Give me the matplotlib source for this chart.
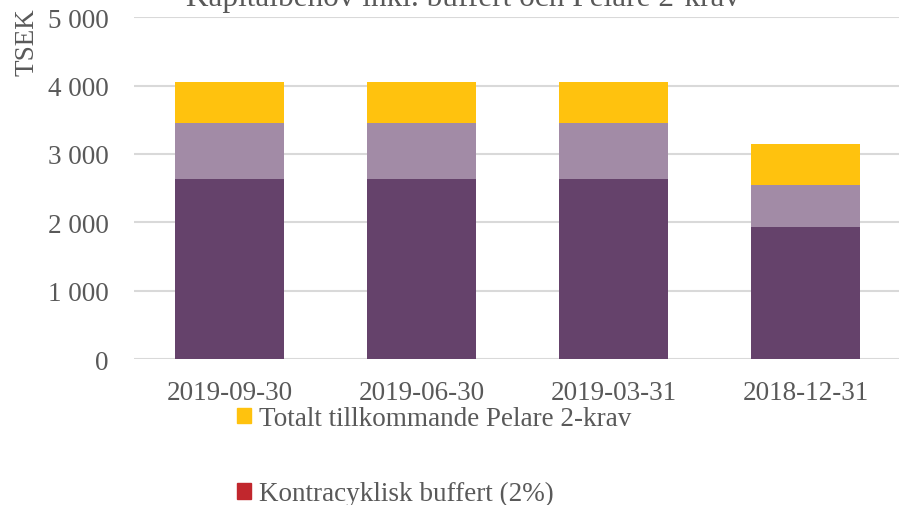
import matplotlib
matplotlib.use("Agg")
import matplotlib.pyplot as plt
from matplotlib.patches import Patch
from matplotlib.ticker import FuncFormatter

categories = ["2019-09-30", "2019-06-30", "2019-03-31", "2018-12-31"]
kapitalbas = [2630, 2630, 2630, 1930]
buffert = [830, 830, 830, 610]
pelare2 = [590, 590, 590, 600]
kontracyklisk = [0, 0, 0, 0]
yticks = [0, 1000, 2000, 3000, 4000, 5000]

c_dark = "#65426B"
c_light = "#A28BA6"
c_yellow = "#FFC20E"
c_red = "#C1272D"
txt = "#595959"

plt.rcParams['font.family'] = ['Liberation Serif', 'DejaVu Serif']
fs = 19.5

fig = plt.figure(figsize=(8.99, 5.06), dpi=100)
left = 133.5 / 899
right = 901.5 / 899
bottom = 1 - 360 / 506
top = 1 - 18.3 / 506
ax = fig.add_axes([left, bottom, right - left, top - bottom])

x = list(range(len(categories)))
w = 0.57
ax.bar(x, kapitalbas, width=w, color=c_dark, zorder=3)
b1 = [a for a in kapitalbas]
ax.bar(x, buffert, width=w, bottom=b1, color=c_light, zorder=3)
b2 = [a + b for a, b in zip(kapitalbas, buffert)]
ax.bar(x, pelare2, width=w, bottom=b2, color=c_yellow, zorder=3)
b3 = [a + b for a, b in zip(b2, pelare2)]
ax.bar(x, kontracyklisk, width=w, bottom=b3, color=c_red, zorder=3)

ax.set_xlim(-0.5, len(categories) - 0.5)
ax.set_ylim(0, 5000)
ax.set_yticks(yticks)
ax.yaxis.set_major_formatter(FuncFormatter(lambda v, p: f"{int(v):,}".replace(",", " ")))
ax.set_xticks(x)
ax.set_xticklabels(categories)
ax.grid(axis='y', color='#D9D9D9', linewidth=1.5, zorder=0)
for s in ax.spines.values():
    s.set_visible(False)
ax.tick_params(axis='both', length=0, labelsize=fs, colors=txt)
ax.tick_params(axis='y', pad=18)
ax.tick_params(axis='x', pad=15)

fig.text(463 / 899, 1 - 6 / 506, "Kapitalbehov inkl. buffert och Pelare 2-krav",
         ha='center', va='baseline', fontsize=22.5, color=txt)
fig.text(27 / 899, 1 - 42 / 506, "TSEK", rotation=90, ha='center', va='center',
         fontsize=fs, color=txt)

handles = [Patch(color=c_yellow), Patch(color=c_red)]
labels = ["Totalt tillkommande Pelare 2-krav", "Kontracyklisk buffert (2%)"]
fig.legend(handles, labels, loc='upper left', bbox_to_anchor=(237 / 899, 1 - 407 / 506),
           frameon=False, fontsize=fs, labelcolor=txt, handlelength=0.52,
           handleheight=0.52, handletextpad=0.3, labelspacing=1.85,
           borderpad=0, borderaxespad=0)

fig.savefig("out.png", dpi=100)
